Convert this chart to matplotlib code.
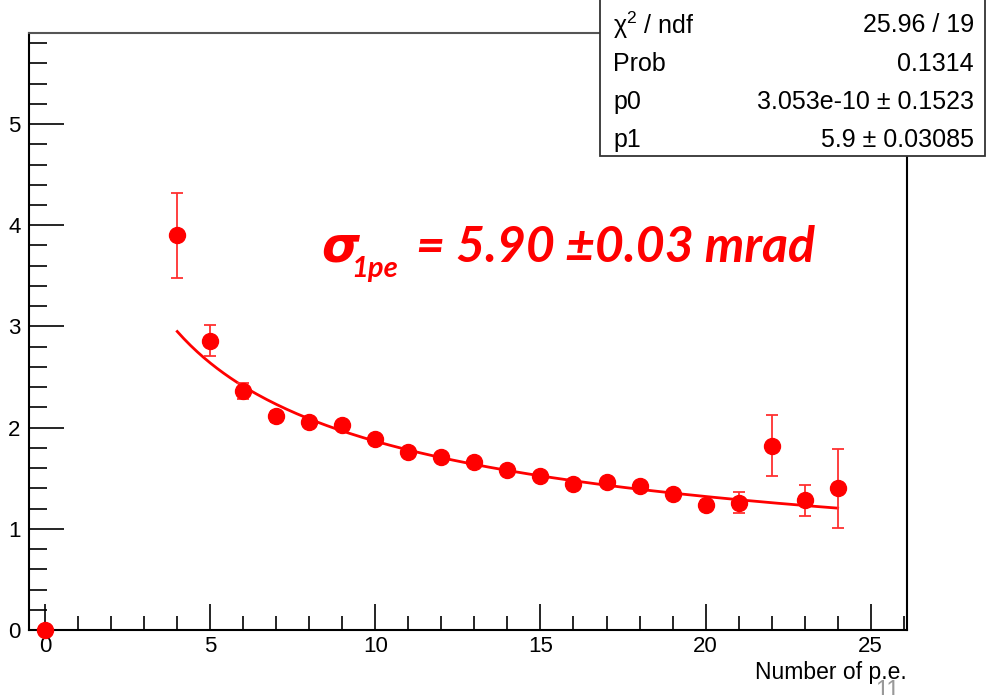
import matplotlib
matplotlib.use("Agg")
import matplotlib.pyplot as plt
import numpy as np
from matplotlib.ticker import MultipleLocator
from matplotlib.patches import Rectangle

# ---- data ----
npe = [0, 4, 5, 6, 7, 8, 9, 10, 11, 12, 13, 14, 15, 16, 17, 18, 19, 20, 21, 22, 23, 24]
sigma = [0.0, 3.90, 2.86, 2.36, 2.11, 2.06, 2.03, 1.89, 1.76, 1.71, 1.66, 1.58,
         1.52, 1.44, 1.46, 1.42, 1.34, 1.24, 1.26, 1.82, 1.28, 1.40]
sigma_err = [0.0, 0.42, 0.15, 0.08, 0.05, 0.04, 0.04, 0.04, 0.04, 0.04, 0.04, 0.04,
             0.04, 0.04, 0.04, 0.04, 0.04, 0.04, 0.10, 0.30, 0.15, 0.39]
p0 = 3.053e-10
p1 = 5.9
fit_range = (4, 24)
stats_labels = ["\u03c7$^{2}$ / ndf", "Prob", "p0", "p1"]
stats_values = ["25.96 / 19", "0.1314", "3.053e-10 \u00b1 0.1523", "5.9 \u00b1 0.03085"]
x_label = "Number of p.e."
annot_main = "= 5.90 \u00b10.03 mrad"
annot_sym = "\u03c3"
annot_sub = "1pe"
slide_no = "11"

plt.rcParams['font.family'] = ['Liberation Sans', 'DejaVu Sans']
plt.rcParams['mathtext.fontset'] = 'custom'
plt.rcParams['mathtext.rm'] = 'Liberation Sans'
plt.rcParams['mathtext.it'] = 'Liberation Sans:italic'

W, H = 988, 695
fig = plt.figure(figsize=(W / 100, H / 100), dpi=100)
ax = fig.add_axes([29 / W, 1 - 630 / H, (907 - 29) / W, (630 - 33) / H])

red = '#ff0000'
ax.errorbar(npe, sigma, yerr=sigma_err, fmt='o', color=red, ms=11.5, elinewidth=1.3,
            capsize=4, capthick=1.3, ecolor='#ff3030', zorder=3, clip_on=False)
xf = np.linspace(fit_range[0], fit_range[1], 200)
ax.plot(xf, p0 + p1 / np.sqrt(xf), color=red, lw=2, zorder=2)

ax.set_xlim(-0.49, 26.1)
ax.set_ylim(0, 5.9)
ax.xaxis.set_major_locator(MultipleLocator(5))
ax.xaxis.set_minor_locator(MultipleLocator(1))
ax.yaxis.set_major_locator(MultipleLocator(1))
ax.yaxis.set_minor_locator(MultipleLocator(0.2))
ax.tick_params(axis='both', which='both', direction='in', labelsize=16, width=1.2)
ax.tick_params(axis='x', which='major', length=19, pad=4)
ax.tick_params(axis='x', which='minor', length=10)
ax.tick_params(axis='y', which='major', length=25, pad=6)
ax.tick_params(axis='y', which='minor', length=13)
ax.tick_params(top=False, right=False)
for s in ax.spines.values():
    s.set_linewidth(1.5)
ax.spines['top'].set_color('#555555')

fig.text(907 / W, 1 - 672 / H, x_label, ha='right', va='center', fontsize=16.5)

# annotation
fig.text(321 / W, 1 - 262 / H, annot_sym, fontsize=35, color=red, fontweight='bold',
         fontstyle='oblique', family=['DejaVu Sans'], ha='left', va='baseline')
fig.text(351 / W, 1 - 277 / H, annot_sub, fontsize=21, color=red, fontweight='bold',
         fontstyle='italic', family=['Lato', 'DejaVu Sans'], ha='left', va='baseline')
fig.text(416 / W, 1 - 262 / H, annot_main, fontsize=36, color=red, fontweight='bold',
         fontstyle='italic', family=['Lato', 'DejaVu Sans'], ha='left', va='baseline')

# stats box
bx0, bx1, by1 = 600, 985, 156
fig.patches.append(Rectangle((bx0 / W, 1 - by1 / H), (bx1 - bx0) / W, by1 / H + 0.01,
                             transform=fig.transFigure, facecolor='white',
                             edgecolor='#333333', lw=1.3, zorder=5))
rows_y = [25, 64, 102, 140]
for lab, val, yy in zip(stats_labels, stats_values, rows_y):
    fig.text(613 / W, 1 - yy / H, lab, ha='left', va='center', fontsize=18, zorder=6)
    fig.text(974 / W, 1 - yy / H, val, ha='right', va='center', fontsize=18, zorder=6)

fig.text(887 / W, 1 - 680 / H, slide_no, ha='center', va='top', fontsize=17,
         color='#999999', family=['Liberation Sans'])

fig.savefig("out.png", dpi=100)
